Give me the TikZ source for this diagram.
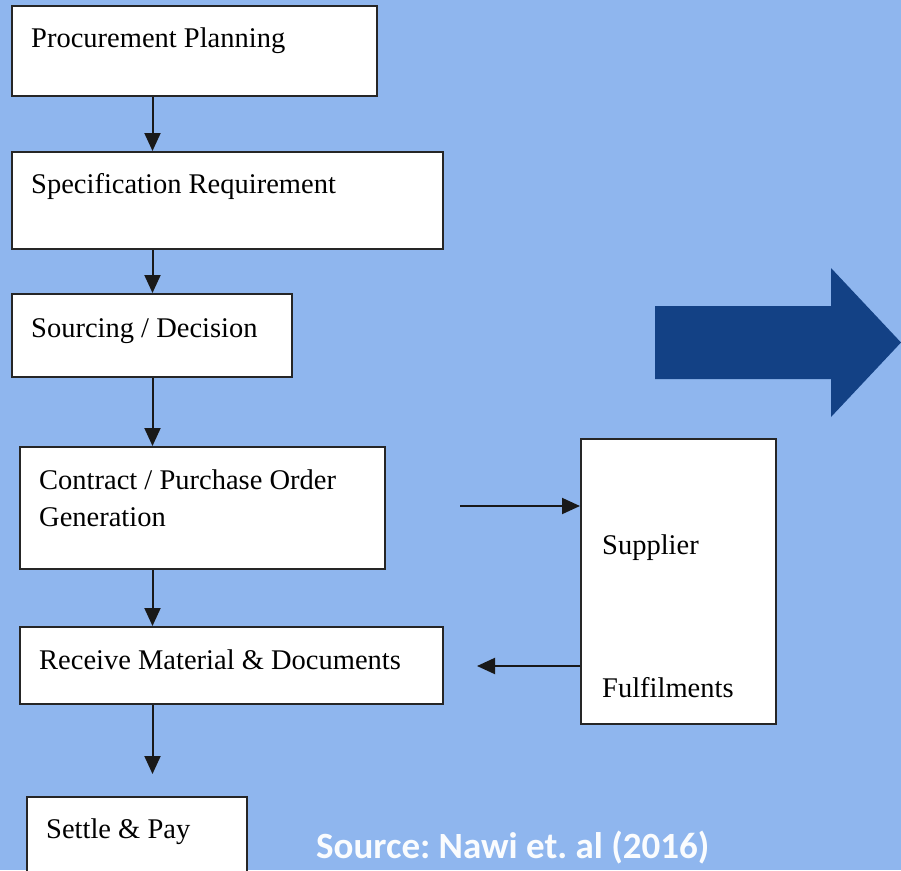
\documentclass[tikz,border=0pt]{standalone}
\usepackage{fontspec}
\setmainfont{Liberation Serif}
\newfontfamily\citefont{Carlito}
\usepackage{xcolor}
\usetikzlibrary{arrows.meta,calc}
\definecolor{slidebg}{HTML}{8FB6EE}
\definecolor{bigarrow}{HTML}{134185}

\begin{document}
\begin{tikzpicture}[x=1pt, y=-1pt,
		stage/.style={draw=black!85, fill=white, line width=2pt, anchor=north west, inner sep=0pt},
		stagetext/.style={anchor=base west, inner sep=0pt, xshift=20pt, yshift=-#1, align=left,
			font=\fontsize{28.5}{37}\selectfont},
		stagetext/.default=43pt,
		flow/.style={-{Triangle[length=18pt, width=16pt]}, line width=2pt, draw=black!90}]
	\useasboundingbox[fill=slidebg] (0,0) rectangle (901,870);
	% process steps
	\node[stage, minimum width=365pt, minimum height=90pt,
		label={[stagetext=42pt]north west:Procurement Planning}] (plan) at (11,5) {};
	\node[stage, minimum width=431pt, minimum height=97pt,
		label={[stagetext=42pt]north west:Specification Requirement}] (spec) at (11,151) {};
	\node[stage, minimum width=280pt, minimum height=83pt,
		label={[stagetext=44pt]north west:Sourcing / Decision}] (sourcing) at (11,293) {};
	\node[stage, minimum width=365pt, minimum height=122pt,
		label={[stagetext=80pt]north west:Contract / Purchase Order\\Generation}] (order) at (19,446) {};
	\node[stage, minimum width=423pt, minimum height=77pt,
		label={[stagetext]north west:Receive Material \& Documents}] (receive) at (19,626) {};
	\node[stage, minimum width=220pt, minimum height=110pt,
		label={[stagetext=42pt]north west:Settle \& Pay}] (settle) at (26,796) {};
	\node[stage, minimum width=195pt, minimum height=285pt,
		label={[stagetext=116pt, xshift=2pt]north west:Supplier},
		label={[stagetext=259pt, xshift=2pt]north west:Fulfilments}] (supplier) at (580,438) {};
	% connectors
	\coordinate (axis) at (152.5,0);
	\draw[flow] (plan.south -| axis) -- (spec.north -| axis);
	\draw[flow] (spec.south -| axis) -- (sourcing.north -| axis);
	\draw[flow] (sourcing.south -| axis) -- (order.north -| axis);
	\draw[flow] (order.south -| axis) -- (receive.north -| axis);
	\coordinate (settle in) at (152.5,774);
	\draw[flow] (receive.south -| axis) -- (settle in);
	\coordinate (order out) at (460,506);
	\draw[flow] (order out) -- (order out -| supplier.west);
	\coordinate (receive in) at (477,666);
	\draw[flow] (receive in -| supplier.west) -- (receive in);
	% big arrow
	\fill[bigarrow] (655,306) -- (831,306) -- (831,268) -- (901,342.5) -- (831,417)
		-- (831,379) -- (655,379) -- cycle;
	\node[font=\citefont\bfseries\fontsize{37}{40}\selectfont\frenchspacing, text=white!96!slidebg,
		anchor=base west, inner sep=0pt] (cite) at (316,858) {Source: Nawi et. al (2016)};
\end{tikzpicture}
\end{document}
